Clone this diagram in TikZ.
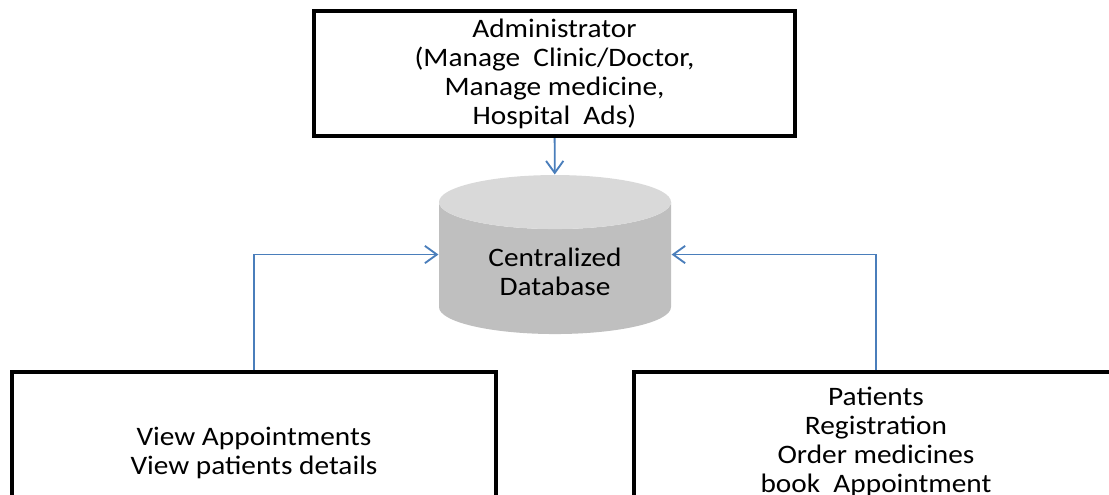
\documentclass[tikz,border=0pt]{standalone}
\usepackage{fontspec}
\setmainfont{Carlito}[FakeStretch=1.1]
\usetikzlibrary{shapes.geometric,arrows.meta}
\definecolor{linkblue}{RGB}{74,126,187}
\definecolor{dbside}{RGB}{191,191,191}
\definecolor{dbtop}{RGB}{217,217,217}

\begin{document}
\begin{tikzpicture}[x=0.75pt,y=-0.75pt,thick,
    main box/.style={rectangle,draw,line width=3pt,minimum width=363pt,align=center,font=\fontsize{20}{21.75}\selectfont},
    db node/.style={cylinder,shape border rotate=90,aspect=0.38,cylinder uses custom fill,cylinder body fill=dbside,cylinder end fill=dbtop,minimum width=174pt,minimum height=119.25pt,align=center,font=\fontsize{20}{21.75}\selectfont},
    link/.style={draw=linkblue,line width=1.4pt,-{Straight Barb[length=9pt,width=13pt]}}]
        \useasboundingbox (0,0) rectangle (1109,494);
        \clip (0,0) rectangle (1109,494);
        \node[main box, minimum width=360.75pt, minimum height=93.75pt] at (554.5, 73.5) (admin) {Administrator\\(Manage~ Clinic/Doctor,\\Manage medicine,\\Hospital~ Ads)};
        \node[db node] at (555, 272) (db) {Centralized\\Database};
        \node[main box, minimum height=121.5pt] at (254, 453) (doctor) {View Appointments\\View patients details};
        \node[main box, minimum height=105pt] at (876, 442) (patient) {Patients\\Registration\\Order medicines\\book~ Appointment};

        \path[every edge/.style={link}]
            (admin) edge (db)
            (doctor.north) edge[to path={|- (\tikztotarget)}] (db.shape center -| db.west)
            (patient.north) edge[to path={|- (\tikztotarget)}] (db.shape center -| db.east)
            ;
    \end{tikzpicture}
\end{document}
